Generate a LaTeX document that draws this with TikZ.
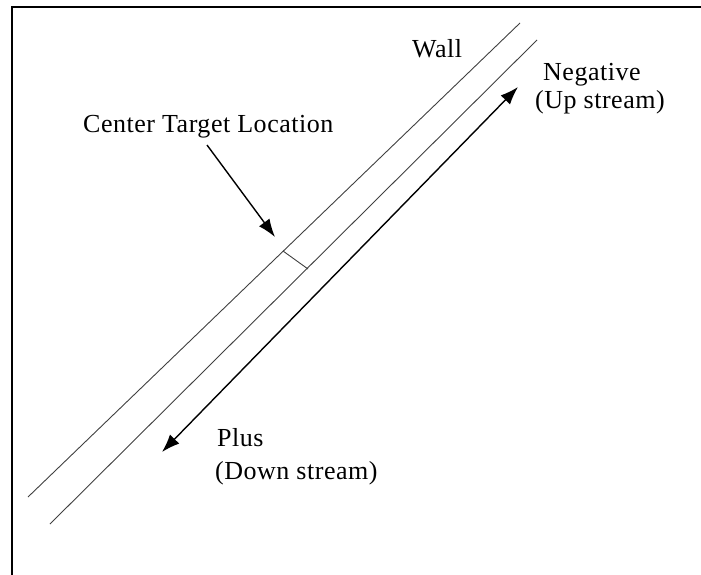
\documentclass[tikz,border=0pt]{standalone}
\usepackage{fontspec}
\setmainfont{Liberation Serif}[LetterSpace=2]
\usetikzlibrary{arrows.meta}
\tikzset{
  frameline/.style={line width=2pt, black},
  wallline/.style={line width=0.9pt, black!75},
  bigarrow/.style={line width=1.4pt, black, -{Latex[length=18pt,width=13pt]}},
  dblarrow/.style={line width=1.4pt, black, {Latex[length=18pt,width=13pt]}-{Latex[length=18pt,width=13pt]}},
  lbl/.style={inner sep=0pt, anchor=base west, font=\fontsize{26}{26}\selectfont}
}
\begin{document}
\begin{tikzpicture}[x=1pt,y=-1pt]
\useasboundingbox (0,0) rectangle (701,575);
% frame
\coordinate (fTR) at (701,7);
\coordinate (fTL) at (12,7);
\coordinate (fBL) at (12,575);
\draw[frameline] (fTR) -- (fTL) -- (fBL);
% walls
\coordinate (w1a) at (28,497);
\coordinate (w1b) at (520,23);
\coordinate (w2a) at (50,524);
\coordinate (w2b) at (537,40);
\draw[wallline] (w1a) -- (w1b);
\draw[wallline] (w2a) -- (w2b);
% center target tick
\coordinate (t1) at (283,251);
\coordinate (t2) at (308,269);
\draw[wallline] (t1) -- (t2);
% double arrow
\coordinate (dA) at (162,452);
\coordinate (dB) at (518,87);
\draw[dblarrow] (dA) -- (dB);
% center target arrow
\coordinate (cS) at (207,145);
\coordinate (cT) at (275,237);
\draw[bigarrow] (cS) -- (cT);
% labels
\node[lbl] (wall) at (412,58) {Wall};
\node[lbl] (neg) at (543,81) {Negative};
\node[lbl] (up) at (535,109) {(Up stream)};
\node[lbl] (ctl) at (83,132) {Center Target Location};
\node[lbl] (plus) at (217,446) {Plus};
\node[lbl] (down) at (215,479) {(Down stream)};
\end{tikzpicture}
\end{document}
